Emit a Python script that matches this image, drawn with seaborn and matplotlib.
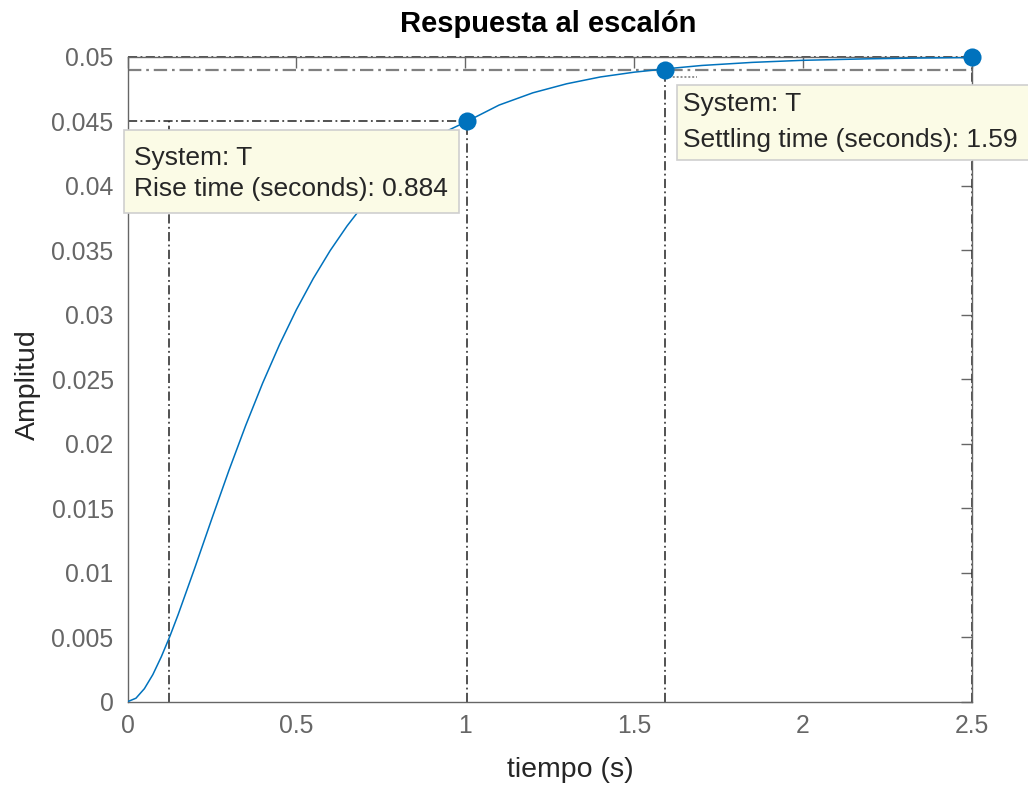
import matplotlib
matplotlib.use("Agg")
import matplotlib.pyplot as plt
from matplotlib.patches import Rectangle
import pandas as pd
import seaborn as sns

# Step response samples (time in s, amplitude)
tiempo = [0.0, 0.025, 0.05, 0.075, 0.1, 0.125, 0.15, 0.2, 0.25, 0.3, 0.35, 0.4,
          0.45, 0.5, 0.55, 0.6, 0.65, 0.7, 0.75, 0.8, 0.85, 0.9, 0.95, 1.006,
          1.1, 1.2, 1.3, 1.4, 1.5, 1.59, 1.7, 1.85, 2.0, 2.2, 2.35, 2.5]
amplitud = [0.0, 0.00027, 0.00101, 0.00210, 0.00348, 0.00504, 0.00676, 0.01043,
            0.01421, 0.01791, 0.02142, 0.02469, 0.02768, 0.03039, 0.03281, 0.03497,
            0.03688, 0.03857, 0.04005, 0.04135, 0.04249, 0.04348, 0.04430, 0.04500,
            0.04625, 0.04720, 0.04790, 0.04843, 0.04880, 0.04905, 0.04932, 0.04956,
            0.04972, 0.04984, 0.04990, 0.04994]

# Characteristics
t_rise_start = 0.122
t_rise_end = 1.006
y_rise = 0.045
rise_time = 0.884
t_settle = 1.59
y_settle = 0.049
settle_time = 1.59
t_final = 2.5
y_final = 0.05

x_ticks = [0, 0.5, 1, 1.5, 2, 2.5]
x_tick_labels = ["0", "0.5", "1", "1.5", "2", "2.5"]
y_ticks = [0, 0.005, 0.01, 0.015, 0.02, 0.025, 0.03, 0.035, 0.04, 0.045, 0.05]
y_tick_labels = ["0", "0.005", "0.01", "0.015", "0.02", "0.025", "0.03",
                 "0.035", "0.04", "0.045", "0.05"]

sns.set_theme(style="white")
plt.rcParams["font.family"] = ["Liberation Sans", "DejaVu Sans"]

W, H = 1028, 785
fig = plt.figure(figsize=(W / 100, H / 100), dpi=100)
ax = fig.add_axes([127.5 / W, (H - 701.7) / H, (972 - 127.5) / W, (701.7 - 56.7) / H])

BLUE = "#0072BD"
AXGRAY = "#666666"
DASHDOT = (0, (6, 2.2, 1.2, 2.2))

df = pd.DataFrame({"tiempo": tiempo, "amplitud": amplitud})
sns.lineplot(data=df, x="tiempo", y="amplitud", ax=ax, color=BLUE, linewidth=1.1,
             zorder=3, estimator=None, sort=True)

# Characteristic guide lines
lw = 1.1
ax.plot([0, t_final], [y_final, y_final], color="#222222", lw=lw, ls=DASHDOT, zorder=2, clip_on=False)
ax.plot([0, t_final], [y_settle, y_settle], color="#808080", lw=1.6, ls=DASHDOT, zorder=2, clip_on=False)
ax.plot([0, t_rise_end], [y_rise, y_rise], color="#222222", lw=lw, ls=DASHDOT, zorder=2)
ax.plot([t_rise_start, t_rise_start], [0, y_rise], color="#222222", lw=lw, ls=DASHDOT, zorder=2)
ax.plot([t_rise_end, t_rise_end], [0, y_rise], color="#222222", lw=lw, ls=DASHDOT, zorder=2)
ax.plot([t_settle, t_settle], [0, y_settle], color="#222222", lw=lw, ls=DASHDOT, zorder=2)
ax.plot([t_final, t_final], [0, y_final], color="#222222", lw=lw, ls=DASHDOT, zorder=2, clip_on=False)
ax.plot([t_settle, t_settle + 0.095], [0.04841, 0.04841], color="#909090", lw=1.4, ls=(0, (1, 1)),
        zorder=2)

# Characteristic markers
pts = pd.DataFrame({"t": [t_rise_end, t_settle, t_final], "y": [y_rise, y_settle, y_final]})
sns.scatterplot(data=pts, x="t", y="y", ax=ax, color=BLUE, s=170, edgecolor=BLUE,
                linewidth=0, zorder=6, clip_on=False)

# Data tips
BOX_FC = "#FBFBE6"
BOX_EC = "#CFCFCF"

def px2data(px, py):
    return ((px - 127.5) / 338.0, (701.7 - py) * 0.05 / 645.0)

def datatip(x0, y0, x1, y1, tx, lines_y, lines):
    a = px2data(x0, y1)
    b = px2data(x1, y0)
    rect = Rectangle(a, b[0] - a[0], b[1] - a[1], facecolor=BOX_FC, edgecolor=BOX_EC,
                     lw=1.2, zorder=5, clip_on=False, transform=ax.transData)
    ax.add_patch(rect)
    for ly, txt in zip(lines_y, lines):
        p = px2data(tx, ly)
        ax.text(p[0], p[1], txt, fontsize=19, color="#262626", ha="left", va="center",
                zorder=7, clip_on=False)

datatip(124, 130, 459, 213, 134, [158, 189],
        ["System: T", f"Rise time (seconds): {rise_time}"])
datatip(677, 85, 1040, 160, 683, [104, 140],
        ["System: T", f"Settling time (seconds): {settle_time}"])

# Axes styling
ax.set_xlim(0, 2.5)
ax.set_ylim(0, 0.05)
ax.set_xticks(x_ticks)
ax.set_xticklabels(x_tick_labels)
ax.set_yticks(y_ticks)
ax.set_yticklabels(y_tick_labels)
ax.tick_params(axis="both", direction="in", length=8, width=1.0, color=AXGRAY,
               labelcolor=AXGRAY, labelsize=17.8, top=True, right=True)
ax.tick_params(axis="x", pad=9)
ax.tick_params(axis="y", pad=10)
for s in ax.spines.values():
    s.set_color(AXGRAY)
    s.set_linewidth(1.0)
    s.set_visible(True)

ax.set_xlabel("tiempo (s)", fontsize=20.5, color="#262626")
ax.set_ylabel("Amplitud", fontsize=20.5, color="#262626")
ax.xaxis.set_label_coords((570 - 127.5) / (972 - 127.5), -(770 - 701.7) / (701.7 - 56.7))
ax.yaxis.set_label_coords(-(127.5 - 28) / (972 - 127.5), (701.7 - 385) / (701.7 - 56.7))
ax.xaxis.label.set_va("center")
ax.yaxis.label.set_va("center")
fig.text(548 / W, 1 - 24 / H, "Respuesta al escalón", fontsize=21, fontweight="bold",
         color="black", ha="center", va="center")

fig.savefig("out.png", dpi=100, facecolor="white")
